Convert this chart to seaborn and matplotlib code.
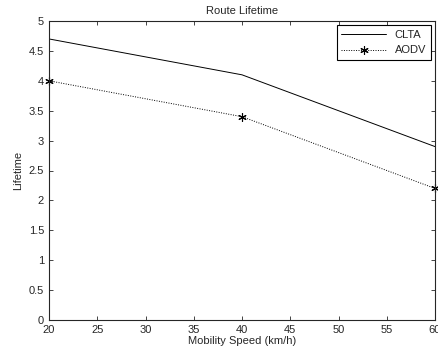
import numpy as np
import pandas as pd
import seaborn as sns
import matplotlib
matplotlib.use('Agg')
import matplotlib.pyplot as plt

speed = [20, 40, 60]
clta = [4.7, 4.1, 2.9]
aodv = [4.0, 3.4, 2.2]

sns.set_style('ticks')
plt.rcParams['font.family'] = ['Liberation Sans', 'DejaVu Sans']

fig = plt.figure(figsize=(4.38, 3.57), dpi=100)
ax = fig.add_axes([49 / 438, 37 / 357, 386 / 438, 299 / 357])

sns.lineplot(x=speed, y=clta, color='black', linewidth=0.7, label='CLTA', ax=ax)
sns.lineplot(x=speed, y=aodv, color='black', linewidth=0.7, linestyle=(0, (1, 1.5)),
             marker=(6, 2, 0), markersize=6, markeredgewidth=0.8,
             markeredgecolor='black', label='AODV', ax=ax, clip_on=False)

ax.set_xlim(20, 60)
ax.set_ylim(0, 5)
ax.set_xticks(np.arange(20, 61, 5))
ax.set_yticks(np.arange(0, 5.01, 0.5))
ax.set_yticklabels(['0', '0.5', '1', '1.5', '2', '2.5', '3', '3.5', '4', '4.5', '5'])
ax.tick_params(direction='in', top=True, right=True, labelsize=8, length=3, width=0.6)
for s in ax.spines.values():
    s.set_visible(True)
    s.set_linewidth(0.8)

ax.set_xlabel('Mobility Speed (km/h)', fontsize=8, labelpad=1)
ax.set_ylabel('Lifetime', fontsize=8, labelpad=4)
ax.set_title('Route Lifetime', fontsize=8, pad=5)

leg = ax.legend(loc='upper right', fontsize=8, fancybox=False,
                edgecolor='black', framealpha=1, handlelength=4,
                borderaxespad=0.4)
leg.get_frame().set_linewidth(0.8)

plt.savefig('out.png', dpi=100)
